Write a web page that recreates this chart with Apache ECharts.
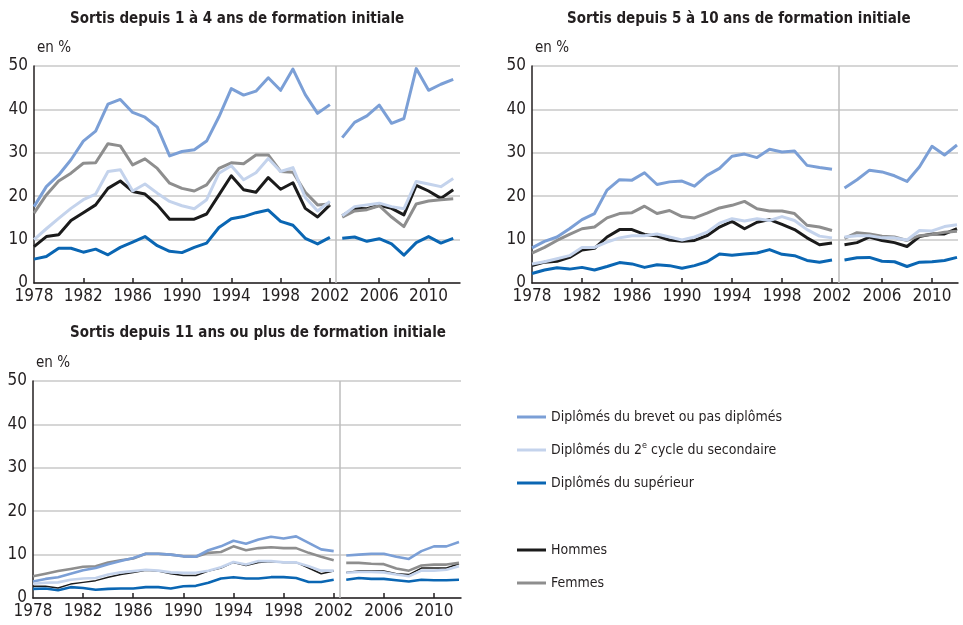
<!DOCTYPE html>
<html>
<head>
<meta charset="utf-8">
<script src="https://cdn.jsdelivr.net/npm/echarts@6/dist/echarts.min.js"></script>
<style>
  html, body { margin: 0; padding: 0; background: #fff; }
  #chart { width: 963px; height: 625px; }
</style>
</head>
<body>
<div id="chart"></div>
<script>
  const years = [1978, 1979, 1980, 1981, 1982, 1983, 1984, 1985, 1986, 1987, 1988, 1989,
    1990, 1991, 1992, 1993, 1994, 1995, 1996, 1997, 1998, 1999, 2000, 2001, 2002,
    2003, 2004, 2005, 2006, 2007, 2008, 2009, 2010, 2011, 2012]
  const breakAfter = 2002 // rupture de série entre 2002 et 2003
  const tickYears = [1982, 1986, 1990, 1994, 1998, 2002, 2006, 2010]
  const labelYears = [1978, 1982, 1986, 1990, 1994, 1998, 2002, 2006, 2010]

  const titles = [
    'Sortis depuis 1 à 4 ans de formation initiale',
    'Sortis depuis 5 à 10 ans de formation initiale',
    'Sortis depuis 11 ans ou plus de formation initiale'
  ]
  const names = [
    'Diplômés du brevet ou pas diplômés',
    'Diplômés du 2e cycle du secondaire',
    'Diplômés du supérieur',
    'Hommes',
    'Femmes'
  ]

  // 1 à 4 ans
  const p1Brevet = [17.6, 22.2, 24.9, 28.4, 32.7, 35.0, 41.2, 42.3, 39.3, 38.2, 35.9, 29.3, 30.3, 30.7, 32.7, 38.3, 44.8, 43.3, 44.2, 47.3, 44.4, 49.3, 43.4, 39.1, 41.1,
    33.5, 37.0, 38.5, 41.0, 36.8, 37.9, 49.4, 44.4, 45.8, 46.9]
  const p1Second = [10.0, 12.5, 14.9, 17.2, 19.2, 20.5, 25.7, 26.1, 21.2, 22.8, 20.7, 18.8, 17.8, 17.1, 19.2, 25.3, 27.0, 23.8, 25.4, 28.7, 25.7, 26.6, 19.7, 16.6, 18.8,
    15.5, 17.6, 18.0, 18.4, 17.6, 17.1, 23.4, 22.8, 22.2, 24.1]
  const p1Sup = [5.5, 6.1, 8.0, 8.0, 7.1, 7.8, 6.5, 8.2, 9.4, 10.7, 8.6, 7.3, 7.0, 8.2, 9.2, 12.8, 14.8, 15.3, 16.2, 16.8, 14.2, 13.3, 10.3, 9.0, 10.5,
    10.3, 10.6, 9.6, 10.2, 9.0, 6.4, 9.3, 10.7, 9.2, 10.3]
  const p1Hommes = [8.4, 10.7, 11.1, 14.4, 16.2, 18.0, 21.8, 23.5, 21.1, 20.5, 18.0, 14.7, 14.7, 14.7, 15.9, 20.3, 24.7, 21.5, 20.9, 24.3, 21.6, 23.1, 17.2, 15.2, 18.0,
    15.5, 17.2, 17.1, 17.9, 17.2, 15.7, 22.5, 21.2, 19.5, 21.5]
  const p1Femmes = [16.1, 20.3, 23.5, 25.3, 27.6, 27.7, 32.1, 31.6, 27.2, 28.6, 26.4, 23.0, 21.8, 21.2, 22.6, 26.4, 27.7, 27.5, 29.5, 29.5, 25.7, 25.5, 20.9, 18.0, 18.2,
    15.2, 16.6, 16.9, 17.8, 15.2, 13.0, 18.2, 18.9, 19.2, 19.4]

  // 5 à 10 ans
  const p2Brevet = [8.1, 9.6, 10.6, 12.5, 14.6, 16.0, 21.4, 23.8, 23.7, 25.4, 22.7, 23.3, 23.5, 22.3, 24.8, 26.4, 29.2, 29.7, 28.9, 30.8, 30.2, 30.4, 27.1, 26.6, 26.2,
    21.9, 23.8, 26.0, 25.6, 24.7, 23.4, 26.8, 31.5, 29.5, 31.8]
  const p2Second = [4.4, 4.9, 5.6, 6.3, 8.2, 8.2, 9.4, 10.4, 10.9, 10.9, 11.3, 10.6, 9.9, 10.6, 11.7, 13.8, 14.8, 14.3, 14.8, 14.4, 15.3, 14.4, 12.3, 10.8, 10.4,
    10.6, 10.9, 10.9, 10.4, 10.4, 9.9, 12.1, 12.0, 13.0, 13.4]
  const p2Sup = [2.2, 3.0, 3.5, 3.2, 3.6, 3.0, 3.8, 4.7, 4.4, 3.6, 4.2, 4.0, 3.4, 4.0, 4.9, 6.7, 6.4, 6.7, 6.9, 7.7, 6.6, 6.3, 5.2, 4.8, 5.3,
    5.3, 5.8, 5.9, 5.0, 4.9, 3.8, 4.8, 4.9, 5.2, 5.9]
  const p2Hommes = [4.0, 4.8, 5.0, 5.9, 7.6, 8.0, 10.6, 12.3, 12.3, 11.2, 10.8, 9.9, 9.6, 9.8, 10.9, 12.9, 14.2, 12.5, 14.0, 14.6, 13.5, 12.3, 10.4, 8.8, 9.2,
    8.8, 9.3, 10.6, 9.8, 9.3, 8.4, 10.7, 11.3, 11.3, 12.5]
  const p2Femmes = [6.9, 8.2, 9.8, 11.2, 12.5, 12.9, 15.0, 16.0, 16.2, 17.7, 16.0, 16.7, 15.3, 15.0, 16.1, 17.3, 17.9, 18.8, 17.1, 16.6, 16.6, 16.0, 13.3, 12.9, 12.1,
    10.3, 11.6, 11.3, 10.8, 10.6, 9.8, 10.9, 11.2, 11.7, 11.9]

  // 11 ans ou plus
  const p3Brevet = [3.8, 4.4, 4.8, 5.6, 6.4, 6.9, 7.8, 8.5, 9.2, 10.2, 10.2, 10.0, 9.6, 9.5, 11.0, 11.9, 13.2, 12.5, 13.5, 14.1, 13.7, 14.2, 12.7, 11.2, 10.8,
    9.8, 10.0, 10.2, 10.2, 9.5, 9.0, 10.8, 11.9, 11.9, 12.9]
  const p3Second = [3.3, 3.5, 3.6, 4.2, 4.5, 4.6, 5.4, 5.9, 6.2, 6.5, 6.3, 5.9, 5.8, 5.8, 6.3, 7.1, 8.3, 7.7, 8.5, 8.5, 8.2, 8.2, 7.3, 6.3, 6.3,
    5.8, 6.0, 6.0, 5.9, 5.4, 5.0, 6.3, 6.3, 6.5, 7.3]
  const p3Sup = [2.1, 2.2, 1.8, 2.5, 2.3, 1.9, 2.1, 2.2, 2.2, 2.5, 2.5, 2.2, 2.7, 2.8, 3.5, 4.5, 4.8, 4.5, 4.5, 4.8, 4.8, 4.6, 3.7, 3.7, 4.2,
    4.2, 4.6, 4.4, 4.4, 4.1, 3.8, 4.2, 4.1, 4.1, 4.2]
  const p3Hommes = [2.7, 2.7, 2.3, 3.2, 3.6, 4.0, 4.8, 5.4, 5.9, 6.4, 6.2, 5.6, 5.2, 5.2, 6.2, 6.9, 8.2, 7.5, 8.2, 8.4, 8.2, 8.2, 6.9, 5.6, 6.2,
    5.9, 6.2, 6.2, 6.2, 5.6, 5.4, 6.9, 6.9, 6.9, 7.9]
  const p3Femmes = [5.0, 5.6, 6.2, 6.7, 7.2, 7.3, 8.2, 8.7, 9.1, 10.2, 10.2, 10.0, 9.6, 9.5, 10.4, 10.6, 11.9, 11.0, 11.5, 11.7, 11.5, 11.5, 10.4, 9.5, 8.7,
    8.1, 8.1, 7.9, 7.8, 6.8, 6.3, 7.5, 7.7, 7.7, 8.1]

  const panels = [
    [p1Brevet, p1Second, p1Sup, p1Hommes, p1Femmes],
    [p2Brevet, p2Second, p2Sup, p2Hommes, p2Femmes],
    [p3Brevet, p3Second, p3Sup, p3Hommes, p3Femmes]
  ]

  const colors = ['#7b9fd6', '#c4d3ec', '#0a66b3', '#1b1b1b', '#8e8e8e']
  const font = '"DejaVu Sans Condensed", "Liberation Sans", sans-serif'
  const textColor = '#231f20'

  const grids = [
    { left: 34, top: 66, width: 426, height: 217 },
    { left: 532, top: 66, width: 426, height: 217 },
    { left: 33, top: 381, width: 428, height: 217 }
  ]
  const xMax = [2012.55, 2012.08, 2012.16]

  function toPairs(values) {
    let out = []
    years.forEach((y, k) => {
      out.push([y, values[k]])
      if (y === breakAfter) out.push([breakAfter + 0.5, '-'])
    })
    return out
  }

  // ordre de dessin : hommes, femmes, brevet, secondaire, supérieur
  const drawOrder = [3, 4, 0, 1, 2]
  let series = []
  panels.forEach((panel, p) => {
    drawOrder.forEach((s, n) => {
      let item = {
        name: names[s],
        type: 'line',
        xAxisIndex: p,
        yAxisIndex: p,
        data: toPairs(panel[s]),
        showSymbol: false,
        symbol: 'none',
        connectNulls: false,
        color: colors[s],
        lineStyle: { color: colors[s], width: p === 2 ? (s === 3 ? 1.5 : 2.6) : 3, join: 'round' },
        z: 2 + n
      }
      if (n === 0) {
        item.markLine = {
          silent: true,
          symbol: 'none',
          label: { show: false },
          lineStyle: { color: '#bdbdbd', type: 'solid', width: 1.5 },
          data: [{ xAxis: breakAfter + 0.5 }],
          z: 1
        }
      }
      series.push(item)
    })
  })

  const chart = echarts.init(document.getElementById('chart'))
  chart.setOption({
    animation: false,
    backgroundColor: '#fff',
    textStyle: { fontFamily: font },
    title: titles.map((t, i) => ({
      text: t,
      left: [65, 562, 65][i],
      top: [7, 7, 321][i],
      textStyle: { fontFamily: font, fontWeight: 'bold', fontSize: 15, color: textColor }
    })),
    grid: grids.map(g => Object.assign({ containLabel: false }, g)),
    xAxis: grids.map((g, i) => ({
      type: 'value',
      gridIndex: i,
      min: 1978,
      max: xMax[i],
      axisLine: { show: true, lineStyle: { color: '#231f20', width: 1.5 } },
      axisTick: { show: true, inside: true, length: 5, customValues: tickYears, lineStyle: { color: '#231f20', width: 1.5 } },
      axisLabel: {
        customValues: labelYears,
        formatter: v => String(v),
        fontSize: 17,
        color: textColor,
        margin: 5,
        fontFamily: font
      },
      splitLine: { show: false }
    })),
    yAxis: grids.map((g, i) => ({
      type: 'value',
      gridIndex: i,
      min: 0,
      max: 50,
      interval: 10,
      name: 'en %',
      nameLocation: 'end',
      nameGap: 10,
      nameTextStyle: { fontSize: 15, color: textColor, align: 'left', padding: [0, 0, 0, 3], fontFamily: font },
      axisLine: { show: true, lineStyle: { color: '#231f20', width: 1.5 } },
      axisTick: { show: false },
      axisLabel: { fontSize: 17, color: textColor, margin: 6, fontFamily: font },
      splitLine: { show: true, lineStyle: { color: '#c8c8c8', width: 1.5 } }
    })),
    legend: [
      {
        orient: 'vertical',
        left: 512,
        top: 403,
        itemWidth: 29,
        itemHeight: 3,
        itemGap: 15,
        icon: 'rect',
        data: names.slice(0, 3),
        formatter: function(name) {
          return name === names[1] ? 'Diplômés du 2{sup|e} cycle du secondaire' : name
        },
        textStyle: {
          fontSize: 14, lineHeight: 18, color: textColor, fontFamily: font,
          rich: { sup: { fontSize: 9, verticalAlign: 'top', lineHeight: 12, color: textColor, fontFamily: font } }
        }
      },
      {
        orient: 'vertical',
        left: 512,
        top: 536,
        itemWidth: 29,
        itemHeight: 3,
        itemGap: 15,
        icon: 'rect',
        data: names.slice(3),
        textStyle: { fontSize: 14, lineHeight: 18, color: textColor, fontFamily: font }
      }
    ],
    series: series
  })
</script>
</body>
</html>
